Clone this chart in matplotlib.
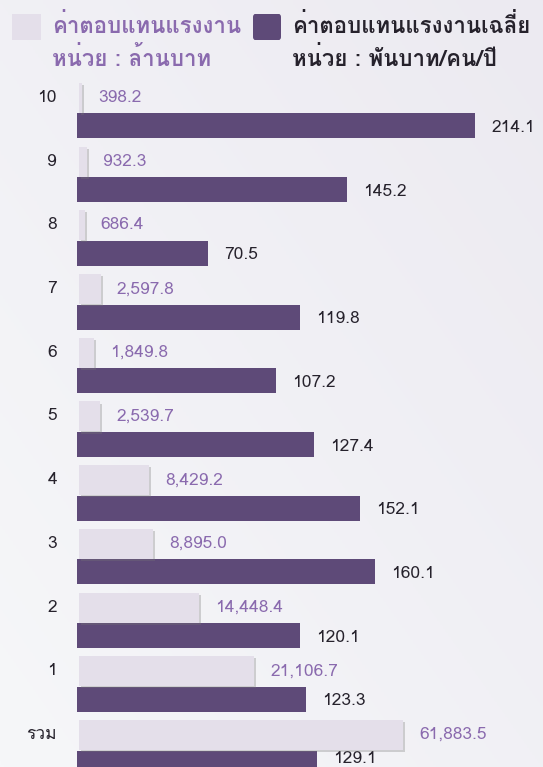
import numpy as np
import matplotlib
matplotlib.use("Agg")
import matplotlib.pyplot as plt
from matplotlib import font_manager
import matplotlib.patheffects as pe

# --- หา font ที่มีอักษรไทย ---
def find_thai_font():
    from fontTools.ttLib import TTFont
    for f in font_manager.fontManager.ttflist:
        try:
            tt = TTFont(f.fname, fontNumber=0, lazy=True)
            cmap = tt.getBestCmap()
            if cmap and 0x0E04 in cmap and 0x0E48 in cmap:
                return f.name
        except Exception:
            continue
    return None

thai = find_thai_font()
fams = ([thai] if thai else []) + ["DejaVu Sans"]
plt.rcParams["font.family"] = fams

# --- ข้อมูล ---
groups = ["10", "9", "8", "7", "6", "5", "4", "3", "2", "1", "รวม"]
comp_total = [398.2, 932.3, 686.4, 2597.8, 1849.8, 2539.7, 8429.2, 8895.0, 14448.4, 21106.7, 61883.5]   # ล้านบาท
comp_avg = [214.1, 145.2, 70.5, 119.8, 107.2, 127.4, 152.1, 160.1, 120.1, 123.3, 129.1]   # พันบาท/คน/ปี

legend_title = ["ค่าตอบแทนแรงงาน", "ค่าตอบแทนแรงงานเฉลี่ย"]
legend_unit = ["หน่วย : ล้านบาท", "หน่วย : พันบาท/คน/ปี"]

light = "#e4dfea"
dark = "#5e4a78"
light_txt = "#8a6aae"
dark_txt = "#26222c"

W, H = 543, 767
fig = plt.figure(figsize=(W / 100, H / 100), dpi=100)

# พื้นหลังไล่สีอ่อน ๆ
bg = fig.add_axes([0, 0, 1, 1])
gx, gy = np.meshgrid(np.linspace(0, 1, 200), np.linspace(0, 1, 200))
grad = 0.5 * gx + 0.5 * (1 - gy)
bg.imshow(grad, cmap=matplotlib.colors.LinearSegmentedColormap.from_list("bg", ["#f6f7f9", "#eceaf1"]),
          extent=[0, 1, 0, 1], aspect="auto")
bg.axis("off")

pos = np.arange(len(groups))
row_px = 63.7
y_top = -98 / row_px
y_bot = (H - 98) / row_px

# สเกลของแท่งสีอ่อน: เส้นตรงจนถึง 22,000 แล้วบีบส่วนที่เกิน
T, k = 22000.0, 0.427
def fwd(x):
    x = np.asarray(x, dtype=float)
    return np.where(x <= T, x, T + (x - T) * k)
def inv(x):
    x = np.asarray(x, dtype=float)
    return np.where(x <= T, x, T + (x - T) / k)

fs = 12.5

# แกนแท่งเฉลี่ย (สีเข้ม)
x0_dark = 77
ax2 = fig.add_axes([x0_dark / W, 0, 1 - x0_dark / W, 1])
ax2.set_xlim(0, (W - x0_dark) / 1.86)
ax2.set_ylim(y_bot, y_top)
off = 28 / row_px
ax2.barh(pos + off, comp_avg, height=25 / row_px, color=dark, zorder=2)
for p, v in zip(pos, comp_avg):
    dy = 3 if p == pos[-1] else -1.5   # แถวสุดท้ายยกขึ้นนิดหน่อยไม่ให้ตกขอบ
    ax2.annotate(f"{v:,.1f}", (v, p + off), xytext=(11.5, dy), textcoords="offset points",
                 va="center", ha="left", fontsize=fs, color=dark_txt)
ax2.axis("off")

# แกนแท่งรวม (สีอ่อน)
x0_light = 79
ax = fig.add_axes([x0_light / W, 0, 1 - x0_light / W, 1])
ax.set_xscale("function", functions=(fwd, inv))
ax.set_xlim(0, inv((W - x0_light) / 0.0083))
ax.set_ylim(y_bot, y_top)
bars = ax.barh(pos, comp_total, height=30 / row_px, color=light, zorder=3)
for b in bars:
    b.set_path_effects([pe.SimplePatchShadow(offset=(1.5, -1.5), shadow_rgbFace="#777777", alpha=0.3), pe.Normal()])
for p, v in zip(pos, comp_total):
    ax.annotate(f"{v:,.1f}", (v, p), xytext=(11.5, 0), textcoords="offset points",
                va="center", ha="left", fontsize=fs, color=light_txt)
ax.axis("off")

# ป้ายกลุ่มทางซ้าย
for p, g in zip(pos, groups):
    ax.annotate(g, (0, p), xytext=(-(x0_light - 57) * 0.72, 0), textcoords="offset points",
                va="center", ha="right", fontsize=fs, color=dark_txt)

# คำอธิบายด้านบน
fig.patches.append(matplotlib.patches.Rectangle((12 / W, 1 - 40 / H), 29 / W, 26 / H,
                   transform=fig.transFigure, facecolor=light, edgecolor="none"))
fig.patches.append(matplotlib.patches.FancyBboxPatch((253 / W, 1 - 40 / H), 28 / W, 26 / H,
                   boxstyle="round,pad=0,rounding_size=0.004",
                   transform=fig.transFigure, facecolor=dark, edgecolor="none"))
for x, col, t, u in [(52, light_txt, legend_title[0], legend_unit[0]),
                     (292, dark_txt, legend_title[1], legend_unit[1])]:
    fig.text(x / W, 1 - 33 / H, t, ha="left", va="baseline", fontsize=16,
             fontweight="bold", color=col)
    fig.text(x / W, 1 - 66 / H, u, ha="left", va="baseline", fontsize=16,
             fontweight="bold", color=col)

fig.savefig("out.png", dpi=100)
